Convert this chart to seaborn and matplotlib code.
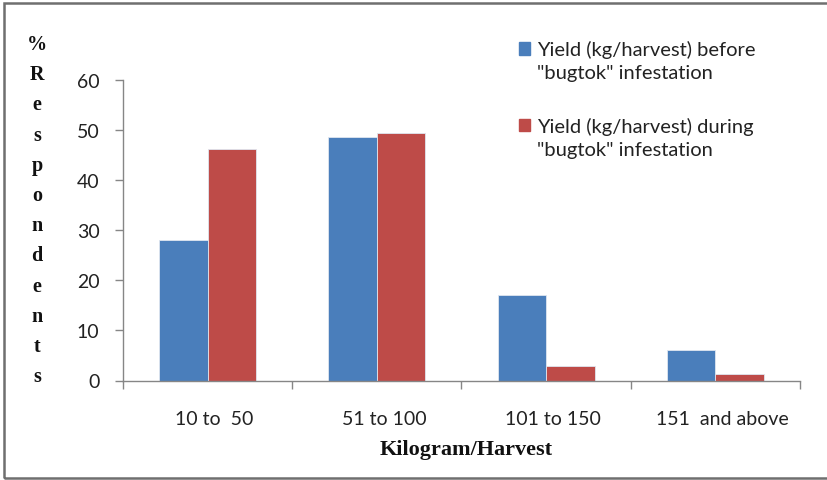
import matplotlib
matplotlib.use("Agg")
import matplotlib.pyplot as plt
import matplotlib.transforms as mtransforms
from matplotlib.patches import Rectangle
from matplotlib.legend_handler import HandlerPatch
import seaborn as sns
import pandas as pd

# Yield classes and share of respondents (%)
categories = ["10 to  50", "51 to 100", "101 to 150", "151  and above"]
before = [28.0, 48.5, 17.1, 6.1]
during = [46.1, 49.4, 2.9, 1.3]
series_names = ['Yield (kg/harvest) before\n"bugtok" infestation',
                'Yield (kg/harvest) during\n"bugtok" infestation']
y_ticks = [0, 10, 20, 30, 40, 50, 60]
y_letters = list("%Respondents")

df = pd.DataFrame({
    "cat": categories * 2,
    "value": before + during,
    "series": [series_names[0]] * 4 + [series_names[1]] * 4,
})

sns.set_theme(style="white")
plt.rcParams["font.family"] = ["Lato", "DejaVu Sans"]

fig = plt.figure(figsize=(8.28, 4.81), dpi=100)
ax = fig.add_axes([123 / 828, 1 - 381.5 / 481, (800 - 123) / 828, (381.5 - 80.7) / 481])

palette = ["#4A7EBB", "#BE4B48"]
sns.barplot(data=df, x="cat", y="value", hue="series", order=categories,
            hue_order=series_names, palette=palette, width=0.574, gap=0,
            saturation=1, edgecolor="#dfe6f0", linewidth=0.6, ax=ax, legend=False)

ax.set_xlim(-0.5, 3.5)
ax.set_ylim(0, 60)
ax.set_xlabel("")
ax.set_ylabel("")

axis_grey = "#868686"
for side in ["top", "right"]:
    ax.spines[side].set_visible(False)
for side in ["left", "bottom"]:
    ax.spines[side].set_color(axis_grey)
    ax.spines[side].set_linewidth(1.0)

ax.set_yticks(y_ticks)
ax.set_yticklabels([str(t) for t in y_ticks], fontsize=14, color="#222222")
ax.tick_params(axis="y", left=True, length=6, width=1, color=axis_grey, pad=11)

# Category boundaries as ticks, names centred between them
ax.set_xticks([-0.5, 0.5, 1.5, 2.5, 3.5])
ax.set_xticklabels([""] * 5)
ax.tick_params(axis="x", which="major", bottom=True, length=6, width=1, color=axis_grey)
ax.set_xticks(range(len(categories)), minor=True)
ax.set_xticklabels(categories, minor=True, fontsize=14, color="#222222")
ax.tick_params(axis="x", which="minor", bottom=False, length=0, pad=21)
shift = mtransforms.ScaledTranslation(7 / 100, 0, fig.dpi_scale_trans)
for lbl in ax.get_xticklabels(minor=True):
    lbl.set_transform(lbl.get_transform() + shift)

fig.text(466 / 828, 1 - 450 / 481, "Kilogram/Harvest", ha="center", va="center",
         fontsize=16, fontweight="bold", family=["Liberation Serif"], color="#111111")

# Stacked vertical axis title
y0, step = 45, 30.2
for i, ch in enumerate(y_letters):
    fig.text(37 / 828, 1 - (y0 + i * step) / 481, ch, ha="center", va="center",
             fontsize=14.5, fontweight="bold", family=["Liberation Serif"], color="#111111")


def top_aligned_square(legend, orig_handle, xdescent, ydescent, width, height, fontsize):
    # keep the swatch level with the first line of a two-line label
    return Rectangle((-xdescent, -ydescent + 0.6 * fontsize), width, height)


handles = [Rectangle((0, 0), 1, 1, color=c) for c in palette]
leg = fig.legend(handles, series_names, loc="upper left",
                 bbox_to_anchor=(509 / 828, 1 - 31 / 481), frameon=False,
                 fontsize=14.5, handlelength=0.55, handleheight=0.55,
                 handletextpad=0.35, labelspacing=1.75, borderpad=0,
                 handler_map={Rectangle: HandlerPatch(patch_func=top_aligned_square)})
for t in leg.get_texts():
    t.set_color("#222222")
    t.set_linespacing(1.45)

# Outer chart frame
fig.add_artist(Rectangle((4 / 828, 2 / 481), 1.2, (479 - 4) / 481,
                         transform=fig.transFigure, fill=False,
                         edgecolor="#6f6f6f", linewidth=1.8))

fig.savefig("out.png", dpi=100)
